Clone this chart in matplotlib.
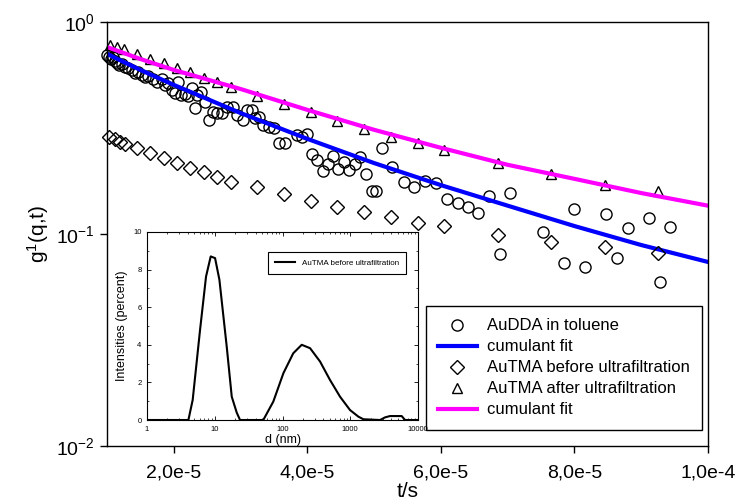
import numpy as np
import matplotlib
matplotlib.use('Agg')
import matplotlib.pyplot as plt
from matplotlib.ticker import FixedLocator, FuncFormatter, LogLocator, NullLocator, MultipleLocator

plt.rcParams['font.family'] = ['Liberation Sans', 'DejaVu Sans']
plt.rcParams['mathtext.default'] = 'regular'

# correlation data, t in units of 1e-5 s
t_dda = [1.00, 1.03, 1.06, 1.09, 1.12, 1.15, 1.18, 1.225, 1.27, 1.315, 1.375, 1.42, 1.465, 1.525,
         1.57, 1.615, 1.69, 1.75, 1.825, 1.87, 1.915, 1.975, 2.02, 2.065, 2.11, 2.17, 2.215, 2.275,
         2.32, 2.35, 2.41, 2.47, 2.53, 2.59, 2.65, 2.725, 2.80, 2.89, 2.95, 3.04, 3.10, 3.175, 3.22,
         3.28, 3.34, 3.43, 3.505, 3.58, 3.67, 3.85, 3.925, 4.00, 4.075, 4.15, 4.24, 4.315, 4.39,
         4.465, 4.555, 4.63, 4.72, 4.795, 4.885, 4.975, 5.035, 5.125, 5.275, 5.44, 5.59, 5.755,
         5.92, 6.085, 6.25, 6.40, 6.55, 6.715, 6.88, 7.03, 7.525, 7.84, 7.99, 8.155, 8.47, 8.635,
         8.80, 9.115, 9.28, 9.43]
g_dda = [0.699, 0.684, 0.669, 0.684, 0.655, 0.641, 0.627, 0.634, 0.613, 0.607, 0.594, 0.575, 0.581,
         0.562, 0.550, 0.556, 0.538, 0.521, 0.538, 0.504, 0.516, 0.478, 0.462, 0.521, 0.452, 0.457,
         0.448, 0.488, 0.393, 0.452, 0.467, 0.419, 0.345, 0.376, 0.372, 0.372, 0.397, 0.397, 0.364,
         0.345, 0.385, 0.385, 0.352, 0.356, 0.327, 0.320, 0.316, 0.269, 0.269, 0.293, 0.287, 0.296,
         0.238, 0.223, 0.198, 0.214, 0.233, 0.203, 0.219, 0.200, 0.214, 0.231, 0.192, 0.160, 0.160,
         0.254, 0.207, 0.176, 0.167, 0.178, 0.174, 0.146, 0.140, 0.134, 0.126, 0.151, 0.0805, 0.156,
         0.102, 0.0730, 0.131, 0.0699, 0.124, 0.0770, 0.107, 0.119, 0.0594, 0.108]

t_before = [1.03, 1.12, 1.20, 1.27, 1.45, 1.65, 1.85, 2.05, 2.25, 2.45, 2.65, 2.85, 3.25, 3.65,
            4.05, 4.45, 4.85, 5.25, 5.65, 6.05, 6.85, 7.65, 8.45, 9.25]
g_before = [0.287, 0.281, 0.272, 0.266, 0.255, 0.241, 0.228, 0.216, 0.205, 0.196, 0.186, 0.176,
            0.167, 0.155, 0.143, 0.134, 0.127, 0.120, 0.113, 0.109, 0.0989, 0.0917, 0.0868, 0.0813]

t_after = [1.05, 1.15, 1.25, 1.45, 1.65, 1.85, 2.05, 2.25, 2.45, 2.65, 2.85, 3.25, 3.65, 4.05,
           4.45, 4.85, 5.25, 5.65, 6.05, 6.85, 7.65, 8.45, 9.25]
g_after = [0.779, 0.762, 0.746, 0.710, 0.669, 0.641, 0.604, 0.578, 0.547, 0.521, 0.496, 0.448,
           0.410, 0.376, 0.341, 0.313, 0.287, 0.269, 0.249, 0.216, 0.192, 0.170, 0.160]

# cumulant fits
t_fit = [1.0, 1.5, 2.0, 3.0, 4.0, 5.0, 6.0, 7.0, 8.0, 9.0, 10.0]
fit_dda = [0.707, 0.594, 0.505, 0.372, 0.281, 0.216, 0.170, 0.136, 0.109, 0.0887, 0.0738]
fit_after = [0.762, 0.669, 0.594, 0.483, 0.385, 0.310, 0.255, 0.212, 0.182, 0.156, 0.136]

# size distribution (inset)
d_nm = [1, 4.08, 4.72, 6.06, 7.43, 8.71, 10.1, 11.7, 15.0, 17.8, 21.1, 23.6, 52, 73.1, 103, 144,
        192, 255, 358, 502, 706, 991, 1315, 1560, 2750, 3260, 3860, 5740, 6430, 10000]
intens = [0, 0, 1.07, 4.79, 7.63, 8.70, 8.61, 7.46, 3.91, 1.24, 0.39, 0, 0, 0.98, 2.49, 3.55,
          4.0, 3.82, 3.11, 2.13, 1.24, 0.53, 0.18, 0.04, 0, 0.14, 0.21, 0.21, 0, 0]

unit = 1e-5
t_dda = np.array(t_dda) * unit
t_before = np.array(t_before) * unit
t_after = np.array(t_after) * unit
t_fit = np.array(t_fit) * unit

fig = plt.figure(figsize=(7.37, 5.03), dpi=100)
ax = fig.add_axes([0.1452, 0.1133, 0.8155, 0.843])

ax.plot(t_dda, g_dda, 'o', mfc='none', mec='k', ms=8, mew=1, clip_on=False, label='AuDDA in toluene')
ax.plot(t_fit, fit_dda, color='#0000ff', lw=3, label='cumulant fit')
ax.plot(t_before, g_before, 'D', mfc='none', mec='k', ms=7, mew=1, clip_on=False,
        label='AuTMA before ultrafiltration')
ax.plot(t_after, g_after, '^', mfc='none', mec='k', ms=7.5, mew=1, clip_on=False,
        label='AuTMA after ultrafiltration')
ax.plot(t_fit, fit_after, color='#ff00ff', lw=3, label='cumulant fit')

ax.set_yscale('log')
ax.set_xlim(1e-5, 1e-4)
ax.set_ylim(1e-2, 1)


def sci_comma(v, pos):
    m, e = ('%.1e' % v).split('e')
    return m.replace('.', ',') + 'e' + str(int(e))


ax.xaxis.set_major_locator(FixedLocator([2e-5, 4e-5, 6e-5, 8e-5, 1e-4]))
ax.xaxis.set_major_formatter(FuncFormatter(sci_comma))
ax.yaxis.set_major_locator(LogLocator(base=10, numticks=5))
ax.yaxis.set_minor_locator(NullLocator())
ax.tick_params(direction='out', length=5, width=1, labelsize=14)
ax.tick_params(axis='x', pad=8)
ax.set_xlabel('t/s', fontsize=15, labelpad=1)
ax.set_ylabel('g$^1$(q,t)', fontsize=15, labelpad=4)
for s in ax.spines.values():
    s.set_linewidth(1)

leg = ax.legend(loc='lower right', bbox_to_anchor=(0.99, 0.038), borderaxespad=0,
                fontsize=12, frameon=True, fancybox=False, edgecolor='k', framealpha=1,
                numpoints=1, handlelength=2.3, handletextpad=0.6, labelspacing=0.36,
                borderpad=0.75)
leg.get_frame().set_linewidth(1)

# inset with the size distribution
ins = fig.add_axes([0.1995, 0.165, 0.3677, 0.3738])
ins.plot(d_nm, intens, color='k', lw=1.5, label='AuTMA before ultrafiltration')
ins.set_xscale('log')
ins.set_xlim(1, 10000)
ins.set_ylim(0, 10)
ins.xaxis.set_major_formatter(FuncFormatter(lambda v, p: '%d' % v))
ins.yaxis.set_major_locator(MultipleLocator(2))
ins.yaxis.set_minor_locator(MultipleLocator(1))
ins.tick_params(which='both', direction='in', top=True, right=True, labelsize=5.5, pad=4)
ins.tick_params(which='major', length=3, width=0.6)
ins.tick_params(which='minor', length=1.5, width=0.5)
ins.set_xlabel('d (nm)', fontsize=9, labelpad=1)
ins.set_ylabel('Intensities (percent)', fontsize=9, labelpad=4)
for s in ins.spines.values():
    s.set_linewidth(0.8)
ileg = ins.legend(loc='upper right', bbox_to_anchor=(0.956, 0.894), borderaxespad=0,
                  fontsize=5.8, fancybox=False, edgecolor='k', framealpha=1,
                  handlelength=2.5, borderpad=0.9)
ileg.get_frame().set_linewidth(0.8)

fig.savefig('out.png', dpi=100)
